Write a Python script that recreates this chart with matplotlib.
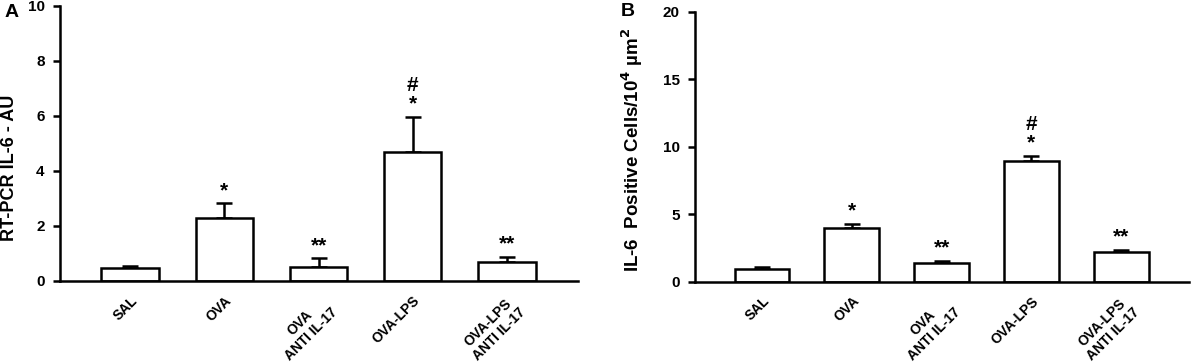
import matplotlib
matplotlib.use("Agg")
import matplotlib.pyplot as plt
import numpy as np

plt.rcParams['font.family'] = ['Liberation Sans', 'DejaVu Sans']
plt.rcParams['font.weight'] = 'bold'
plt.rcParams['mathtext.default'] = 'bf'

groups = ['SAL', 'OVA', 'OVA\nANTI IL-17', 'OVA-LPS', 'OVA-LPS\nANTI IL-17']

# panel A: RT-PCR IL-6 (AU)
pcr_mean = [0.47, 2.30, 0.52, 4.70, 0.70]
pcr_err = [0.07, 0.52, 0.30, 1.28, 0.17]
pcr_marks = ['', '*', '**', '#\n*', '**']

# panel B: IL-6 positive cells / 10^4 um^2
cells_mean = [0.96, 4.00, 1.36, 8.93, 2.18]
cells_err = [0.12, 0.25, 0.16, 0.38, 0.15]
cells_marks = ['', '*', '**', '#\n*', '**']

fig = plt.figure(figsize=(11.95, 3.63), dpi=100)
axA = fig.add_axes([0.0502, 0.226, 0.4335, 0.7575])
axB = fig.add_axes([0.5816, 0.2245, 0.4134, 0.7425])

def panel(ax, mean, err, marks, ymax, ystep, ylabel, gap):
    x = np.arange(len(mean))
    ax.bar(x, mean, width=0.61, color='white', edgecolor='black', linewidth=1.8, zorder=2)
    ax.errorbar(x, mean, yerr=[np.zeros(len(err)), err], fmt='none', ecolor='black',
                elinewidth=1.8, capsize=6, capthick=1.8, zorder=1)
    for xi, m, e, s in zip(x, mean, err, marks):
        if s:
            ax.text(xi, m + e + gap, s, ha='center', va='bottom', fontsize=15,
                    fontweight='bold', linespacing=0.95)
    ax.set_xlim(-0.745, 4.755)
    ax.set_ylim(0, ymax)
    ax.set_yticks(np.arange(0, ymax + 0.1, ystep))
    ax.set_xticks(x)
    ax.set_xticklabels(groups, rotation=45, ha='right', rotation_mode='anchor',
                       fontsize=10, fontweight='bold', multialignment='center')
    ax.tick_params(axis='x', length=0, pad=9)
    ax.tick_params(axis='y', length=5, width=1.8, direction='out', labelsize=11, pad=6)
    for lab in ax.get_yticklabels():
        lab.set_fontweight('bold')
    for sp in ['top', 'right']:
        ax.spines[sp].set_visible(False)
    for sp in ['left', 'bottom']:
        ax.spines[sp].set_linewidth(1.8)
    ax.set_ylabel(ylabel, fontweight='bold')

panel(axA, pcr_mean, pcr_err, pcr_marks, 10, 2, 'RT-PCR IL-6 - AU', 0.12)
panel(axB, cells_mean, cells_err, cells_marks, 20, 5, 'IL-6  Positive Cells/10$^{4}$ µm$^{2}$', 0.25)
axA.yaxis.label.set_fontsize(13)
axB.yaxis.label.set_fontsize(13.5)
axA.yaxis.set_label_coords(-0.081, 0.41)
axB.yaxis.set_label_coords(-0.101, 0.49)

fig.text(0.004, 0.988, 'A', fontsize=14, fontweight='bold', va='top')
fig.text(0.5195, 0.993, 'B', fontsize=14, fontweight='bold', va='top')

fig.savefig('out.png', dpi=100)
